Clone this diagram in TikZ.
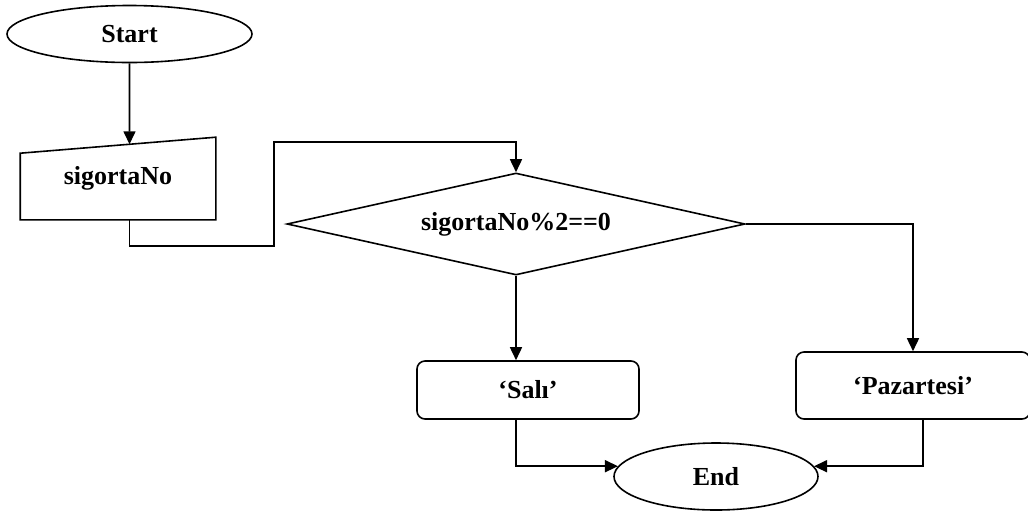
\documentclass[tikz,border=0pt]{standalone}
\usepackage{fontspec}
\setmainfont{Liberation Serif}
\usepackage{tikz}
\usetikzlibrary{arrows.meta,positioning,shapes.geometric,calc}
\tikzset{
  txt/.style={font=\fontsize{13}{15}\selectfont\bfseries},
  term/.style={draw, ellipse, inner sep=0pt, txt},
  inbox/.style={inner sep=0pt, txt},
  dec/.style={draw, diamond, aspect=4.5, inner sep=0pt, txt},
  proc/.style={draw, rounded corners=4pt, inner sep=0pt, txt},
  arr/.style={-{Triangle[length=6.5pt, width=6pt]}}
}

\begin{document}
\begin{tikzpicture}[x=0.5pt, y=-0.5pt, line width=0.8pt]
  \useasboundingbox (0,0) rectangle (1028,510);
  \node[term, minimum width=122.5pt, minimum height=28.5pt] (start) at (129.5,34) {Start};
  \node[inbox, minimum width=97pt, minimum height=40.5pt] (inp) at (118,178.5) {sigortaNo};
  \draw (inp.south west) -- (inp.south east) -- (inp.north east) -- ($(inp.north west)+(0,16)$) -- cycle;
  \node[dec, minimum width=229pt, minimum height=51pt] (dia) at (516,224) {sigortaNo\%2==0};
  \node[proc, minimum width=111pt, minimum height=29pt] (sal) at (528,390) {‘Salı’};
  \node[proc, minimum width=117pt, minimum height=33.5pt] (paz) at (913,385.5) {‘Pazartesi’};
  \node[term, minimum width=102pt, minimum height=33.5pt] (end) at (716,476.5) {End};
  % connectors
  \draw[arr] (start.south) -- (intersection of start.south--{start.south |- inp.south} and {inp.north east}--{$(inp.north west)+(0,16)$});
  \draw[arr] (start.south |- inp.south) -- ++(0,26) -| (274,142) -| (dia.north);
  \draw[arr] (dia.south) -- (dia.south |- sal.north);
  \draw[arr] (dia.east) -| (paz.north);
  \draw[arr] (dia.south |- sal.south) |- (end.174);
  \draw[arr] ([xshift=5pt]paz.south) |- (end.6);
\end{tikzpicture}
\end{document}
